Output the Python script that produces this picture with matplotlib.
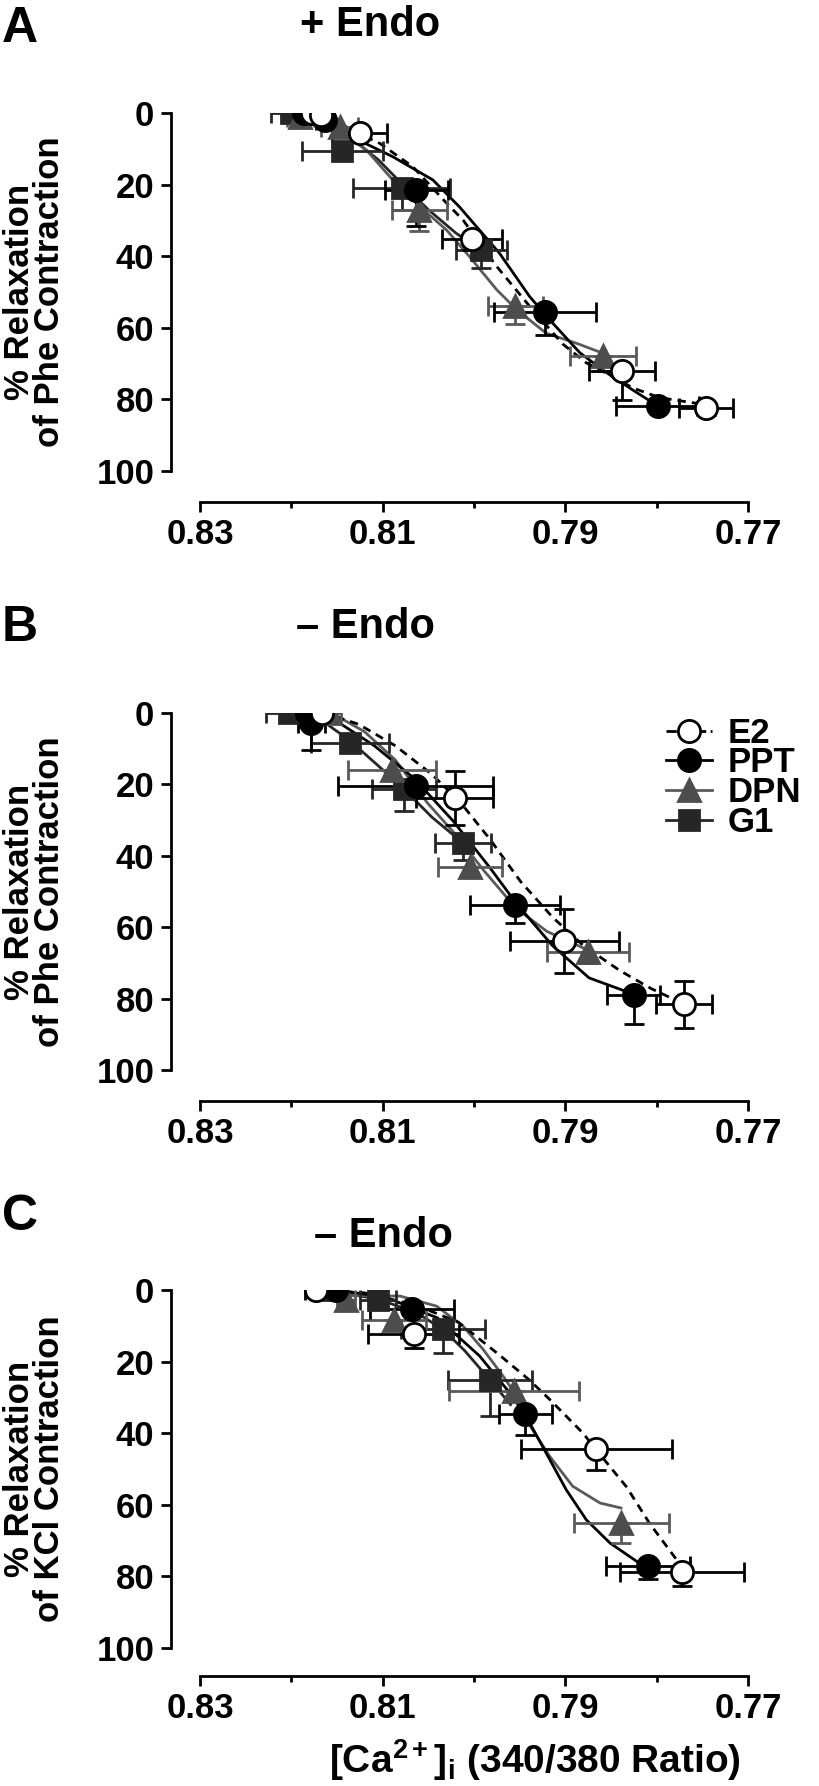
import matplotlib
matplotlib.use("Agg")
import matplotlib.pyplot as plt
from matplotlib.lines import Line2D
from matplotlib.font_manager import FontProperties

# ---------------- data ----------------
# Panel A: + Endo, Phe contraction
a_e2_x = [0.8177, 0.8167, 0.8125, 0.8002, 0.7838, 0.7746]
a_e2_y = [0, 0.5, 5.5, 35.2, 72.2, 82.3]
a_e2_xerr = [0.0012, 0.0010, 0.0030, 0.0033, 0.0036, 0.0030]
a_e2_ydn = [0, 0, 0, 3, 8, 2]
a_e2_yup = [0, 0, 0, 0, 0, 0]
a_ppt_x = [0.8186, 0.8163, 0.8063, 0.7922, 0.7799]
a_ppt_y = [0, 2, 21.5, 55.5, 81.8]
a_ppt_xerr = [0.0015, 0.0010, 0.0034, 0.0056, 0.0045]
a_ppt_ydn = [0, 0, 10, 6.5, 0]
a_ppt_yup = [0, 0, 0, 0, 0]
a_dpn_x = [0.8190, 0.8147, 0.8060, 0.7955, 0.7859]
a_dpn_y = [1, 4, 27, 54, 68]
a_dpn_xerr = [0.0015, 0.0020, 0.0030, 0.0030, 0.0036]
a_dpn_ydn = [0, 0, 6, 5, 4]
a_dpn_yup = [0, 0, 0, 0, 0]
a_g1_x = [0.8200, 0.8144, 0.8079, 0.7992]
a_g1_y = [0, 10.7, 21, 38.3]
a_g1_xerr = [0.0022, 0.0044, 0.0053, 0.0028]
a_g1_ydn = [0, 0, 6, 5]
a_g1_yup = [0, 0, 0, 0]
# fitted curves as traced
a_e2_cx = [0.8177, 0.8150, 0.8123, 0.8103, 0.8067, 0.8030, 0.8012, 0.7975, 0.7939,
           0.7903, 0.7877, 0.7848, 0.7826, 0.7797, 0.7746]
a_e2_cy = [0, 2.5, 6.1, 8.5, 15, 25.2, 29.9, 42.9, 54, 64.5, 69.8, 73.7, 76.8, 79.5, 81.5]
a_ppt_cx = [0.8186, 0.8165, 0.8123, 0.8089, 0.8045, 0.8016, 0.7994, 0.7972, 0.7939,
            0.7917, 0.7884, 0.7855, 0.7826, 0.7799]
a_ppt_cy = [0, 2, 8, 12.2, 18.7, 26.2, 32.7, 39.2, 51.3, 57.8, 67, 72.5, 77.4, 81.8]
a_dpn_cx = [0.8190, 0.8147, 0.8118, 0.8089, 0.8059, 0.8030, 0.8005, 0.7975, 0.7953,
            0.7921, 0.7888, 0.7859]
a_dpn_cy = [1, 4.7, 10.3, 18.7, 26.2, 32.7, 40.1, 49.4, 55, 61.5, 64.3, 67.1]
a_g1_cx = [0.8200, 0.8165, 0.8130, 0.8105, 0.8080, 0.8050, 0.8020, 0.7992]
a_g1_cy = [0.5, 3, 8, 13, 19.5, 27, 33.5, 38.5]

# Panel B: - Endo, Phe contraction
b_e2_x = [0.8166, 0.8021, 0.7901, 0.7770]
b_e2_y = [0, 23.8, 63.8, 81.6]
b_e2_xerr = [0.0010, 0.0042, 0.0060, 0.0031]
b_e2_ydn = [0, 7.6, 8.9, 6.5]
b_e2_yup = [0, 7.6, 8.9, 6.5]
b_ppt_x = [0.8183, 0.8178, 0.8064, 0.7955, 0.7825]
b_ppt_y = [0, 2.9, 20.4, 53.9, 79]
b_ppt_xerr = [0.0015, 0.0015, 0.0085, 0.0049, 0.0029]
b_ppt_ydn = [0, 7.5, 0, 5, 8]
b_ppt_yup = [0, 0, 0, 0, 0]
b_dpn_x = [0.8158, 0.8090, 0.8004, 0.7875]
b_dpn_y = [0, 16, 43, 67]
b_dpn_xerr = [0.0012, 0.0048, 0.0035, 0.0045]
b_dpn_ydn = [0, 0, 3, 3]
b_dpn_yup = [0, 0, 0, 0]
b_g1_x = [0.8203, 0.8136, 0.8077, 0.8012]
b_g1_y = [0, 8.5, 21.4, 36.3]
b_g1_xerr = [0.0025, 0.0043, 0.0035, 0.0031]
b_g1_ydn = [0, 0, 6, 5]
b_g1_yup = [0, 0, 0, 0]
b_e2_cx = [0.8166, 0.8149, 0.8126, 0.8086, 0.8046, 0.8015, 0.7983, 0.7949, 0.7914,
           0.7880, 0.7840, 0.7806, 0.7777, 0.7770]
b_e2_cy = [0, 1.2, 3.2, 9.2, 17.2, 25, 35.2, 47.2, 57.2, 65.2, 72.2, 77.2, 80.7, 81.6]
b_ppt_cx = [0.8184, 0.8154, 0.8109, 0.8066, 0.8023, 0.7983, 0.7954, 0.7914, 0.7874, 0.7826]
b_ppt_cy = [0, 1.7, 9.2, 18.2, 30.2, 43.2, 53.2, 65.2, 74.2, 78.7]
b_dpn_cx = [0.8156, 0.8120, 0.8086, 0.8051, 0.8023, 0.7989, 0.7954, 0.7920, 0.7877]
b_dpn_cy = [0, 5.2, 13.2, 25.2, 33.2, 44.2, 54.7, 61.2, 66.2]
b_g1_cx = [0.8204, 0.8166, 0.8136, 0.8103, 0.8077, 0.8046, 0.8013]
b_g1_cy = [0, 2.2, 7.7, 15.2, 21.2, 29.2, 36.2]

# Panel C: - Endo, KCl contraction
c_e2_x = [0.8173, 0.8066, 0.7866, 0.7772]
c_e2_y = [0, 12.4, 44.4, 78.7]
c_e2_xerr = [0.0012, 0.0050, 0.0083, 0.0068]
c_e2_ydn = [0, 3.9, 5.8, 4]
c_e2_yup = [0, 0, 0, 0]
c_ppt_x = [0.8151, 0.8068, 0.7944, 0.7809]
c_ppt_y = [0, 5.2, 34.5, 77.2]
c_ppt_xerr = [0.0010, 0.0046, 0.0029, 0.0046]
c_ppt_ydn = [0, 0, 6, 3.5]
c_ppt_yup = [0, 0, 0, 0]
c_dpn_x = [0.8140, 0.8088, 0.7956, 0.7839]
c_dpn_y = [2.7, 8.3, 28.3, 65]
c_dpn_xerr = [0.0010, 0.0035, 0.0071, 0.0052]
c_dpn_ydn = [0, 3, 0, 5.6]
c_dpn_yup = [0, 0, 0, 0]
c_g1_x = [0.8166, 0.8105, 0.8034, 0.7983]
c_g1_y = [0, 2.9, 11, 25.2]
c_g1_xerr = [0.0010, 0.0020, 0.0046, 0.0046]
c_g1_ydn = [0, 0, 6.5, 10]
c_g1_yup = [0, 0, 0, 0]
c_e2_cx = [0.8173, 0.8120, 0.8063, 0.8017, 0.7971, 0.7940, 0.7917, 0.7881, 0.7851,
           0.7833, 0.7808, 0.7778, 0.7772]
c_e2_cy = [0, 0.8, 4.3, 9, 18.4, 25, 30.6, 39.9, 49.4, 55, 65.1, 75.4, 78.7]
c_ppt_cx = [0.8151, 0.8097, 0.8040, 0.7994, 0.7960, 0.7943, 0.7917, 0.7899, 0.7877,
            0.7851, 0.7819, 0.7809]
c_ppt_cy = [0, 2, 7.8, 18.4, 29, 35.3, 47.4, 55.8, 64.2, 70.7, 76.3, 77.2]
c_dpn_cx = [0.8140, 0.8081, 0.8041, 0.8012, 0.7990, 0.7968, 0.7953, 0.7943, 0.7917,
            0.7892, 0.7862, 0.7839]
c_dpn_cy = [1.5, 1.7, 4.5, 10.1, 16.6, 24.1, 29.7, 36.2, 46.5, 54.8, 59.5, 60.9]
c_g1_cx = [0.8166, 0.8105, 0.8062, 0.8034, 0.8010, 0.7983, 0.7960]
c_g1_cy = [0, 2.5, 6.5, 11, 17, 25, 32]

series_names = ['E2', 'PPT', 'DPN', 'G1']
x_ticks = [0.83, 0.81, 0.79, 0.77]
x_minor = [0.82, 0.80, 0.78]
y_ticks = [0, 20, 40, 60, 80, 100]

# ---------------- style ----------------
FONT = ['Liberation Sans', 'DejaVu Sans']
plt.rcParams['font.family'] = FONT
plt.rcParams['font.weight'] = 'bold'
plt.rcParams['mathtext.fontset'] = 'custom'
plt.rcParams['mathtext.rm'] = 'Liberation Sans:bold'
plt.rcParams['mathtext.it'] = 'Liberation Sans:bold'
plt.rcParams['mathtext.bf'] = 'Liberation Sans:bold'
plt.rcParams['mathtext.default'] = 'rm'

W, H = 819, 1786
styles = {
    'E2':  dict(color='black', marker='o', mfc='white', mec='black', ms=16, ls='--'),
    'PPT': dict(color='black', marker='o', mfc='black', mec='black', ms=16, ls='-'),
    'DPN': dict(color='#5a5a5a', marker='^', mfc='#4d4d4d', mec='#4d4d4d', ms=16, ls='-'),
    'G1':  dict(color='#262626', marker='s', mfc='#262626', mec='#262626', ms=14.5, ls='-'),
}

fig = plt.figure(figsize=(W / 100, H / 100), dpi=100)


def px_axes(top, bottom):
    return fig.add_axes([200 / W, 1 - bottom / H, 548 / W, (bottom - top) / H])


def draw_panel(ax, pts, curves, offset):
    order = ['G1', 'DPN', 'PPT', 'E2']
    for name in order:
        st = styles[name]
        cx, cy = curves[name]
        if st['ls'] == '--':
            ax.plot(cx, cy, color=st['color'], lw=2, ls='--', dashes=(3, 2.2), zorder=2)
        else:
            ax.plot(cx, cy, color=st['color'], lw=2, ls='-', zorder=2)
    for name in order:
        st = styles[name]
        x, y, xe, yup, ydn = pts[name]
        ax.errorbar(x, y, xerr=xe, yerr=[yup, ydn], fmt='none', ecolor=st['color'],
                    elinewidth=2, capsize=7, capthick=2, zorder=3)
    for name in order:
        st = styles[name]
        x, y = pts[name][0], pts[name][1]
        ax.plot(x, y, ls='none', marker=st['marker'], ms=st['ms'], mfc=st['mfc'],
                mec=st['mec'], mew=2, zorder=4)

    ax.set_xlim(0.83, 0.77)
    ax.set_ylim(100, 0)
    for s in ['top', 'right']:
        ax.spines[s].set_visible(False)
    ax.spines['left'].set_position(('outward', 21))
    ax.spines['bottom'].set_position(('outward', offset))
    ax.spines['left'].set_bounds(0, 100)
    ax.spines['bottom'].set_bounds(0.77, 0.83)
    for s in ['left', 'bottom']:
        ax.spines[s].set_linewidth(2)
    ax.set_xticks(x_ticks)
    ax.set_xticks(x_minor, minor=True)
    ax.set_xticklabels(['%.2f' % t for t in x_ticks])
    ax.set_yticks(y_ticks)
    ax.tick_params(axis='both', which='major', length=7, width=2, labelsize=25, pad=5)
    ax.tick_params(axis='x', which='minor', length=4, width=2)
    ax.patch.set_visible(False)


panels = [
    ('A', '+ Endo', 113, 471, 22, 370, 25, 29, 'of Phe Contraction',
     {'E2': (a_e2_x, a_e2_y, a_e2_xerr, a_e2_yup, a_e2_ydn),
      'PPT': (a_ppt_x, a_ppt_y, a_ppt_xerr, a_ppt_yup, a_ppt_ydn),
      'DPN': (a_dpn_x, a_dpn_y, a_dpn_xerr, a_dpn_yup, a_dpn_ydn),
      'G1': (a_g1_x, a_g1_y, a_g1_xerr, a_g1_yup, a_g1_ydn)},
     {'E2': (a_e2_cx, a_e2_cy), 'PPT': (a_ppt_cx, a_ppt_cy),
      'DPN': (a_dpn_cx, a_dpn_cy), 'G1': (a_g1_cx, a_g1_cy)}),
    ('B', '\u2013 Endo', 713, 1070, 22, 365, 627, 628, 'of Phe Contraction',
     {'E2': (b_e2_x, b_e2_y, b_e2_xerr, b_e2_yup, b_e2_ydn),
      'PPT': (b_ppt_x, b_ppt_y, b_ppt_xerr, b_ppt_yup, b_ppt_ydn),
      'DPN': (b_dpn_x, b_dpn_y, b_dpn_xerr, b_dpn_yup, b_dpn_ydn),
      'G1': (b_g1_x, b_g1_y, b_g1_xerr, b_g1_yup, b_g1_ydn)},
     {'E2': (b_e2_cx, b_e2_cy), 'PPT': (b_ppt_cx, b_ppt_cy),
      'DPN': (b_dpn_cx, b_dpn_cy), 'G1': (b_g1_cx, b_g1_cy)}),
    ('C', '\u2013 Endo', 1290, 1648, 20, 383, 1236, 1217, 'of KCl Contraction',
     {'E2': (c_e2_x, c_e2_y, c_e2_xerr, c_e2_yup, c_e2_ydn),
      'PPT': (c_ppt_x, c_ppt_y, c_ppt_xerr, c_ppt_yup, c_ppt_ydn),
      'DPN': (c_dpn_x, c_dpn_y, c_dpn_xerr, c_dpn_yup, c_dpn_ydn),
      'G1': (c_g1_x, c_g1_y, c_g1_xerr, c_g1_yup, c_g1_ydn)},
     {'E2': (c_e2_cx, c_e2_cy), 'PPT': (c_ppt_cx, c_ppt_cy),
      'DPN': (c_dpn_cx, c_dpn_cy), 'G1': (c_g1_cx, c_g1_cy)}),
]

ylabels = []
for letter, title, top, bottom, off, title_x, title_y, letter_y, ylab2, pts, curves in panels:
    ax = px_axes(top, bottom)
    draw_panel(ax, pts, curves, off)
    fig.text(title_x / W, 1 - title_y / H, title, ha='center', va='center', fontsize=30)
    fig.text(2 / W, 1 - letter_y / H, letter, ha='left', va='center', fontsize=36)
    t = fig.text(34 / W, 1 - (top + bottom) / 2 / H, '% Relaxation\n' + ylab2, rotation=90,
                 ha='center', va='center', fontsize=25, linespacing=0.9)
    ylabels.append(t)

xlab = fig.text(535 / W, 3 / H, r'[Ca$^{2+}$]$_{i}$ (340/380 Ratio)', ha='center',
                va='bottom', fontsize=28)

# ---- legend in panel B, drawn by hand so the rows can sit tight ----
renderer = fig.canvas.get_renderer()
leg_size = 25
fp = FontProperties(family=FONT, weight='bold', size=leg_size)
_, lp_h, lp_d = renderer.get_text_width_height_descent('lp', fp, ismath=False)
_, cap_h, _ = renderer.get_text_width_height_descent('E', fp, ismath=False)
row0, step = 731, 29.5
ls = (step - lp_d) / (lp_h - lp_d)
text_top = row0 + cap_h / 2 - (lp_h - lp_d)
fig.text(728 / W, 1 - text_top / H, '\n'.join(series_names), ha='left', va='top',
         fontsize=leg_size, linespacing=ls)
for i, name in enumerate(series_names):
    st = styles[name]
    yy = 1 - (row0 + i * step) / H
    fig.add_artist(Line2D([666 / W, 712 / W], [yy, yy], transform=fig.transFigure,
                          color=st['color'], lw=2, ls='--' if name == 'E2' else '-'))
    fig.add_artist(Line2D([689 / W], [yy], transform=fig.transFigure, ls='none',
                          marker=st['marker'], ms=st['ms'], mfc=st['mfc'], mec=st['mec'],
                          mew=2))

# keep the y labels just inside the left edge
for t in ylabels:
    bb = t.get_window_extent(renderer)
    x, y = t.get_position()
    t.set_position((x + (3 - bb.x0) / W, y))

fig.savefig('out.png', dpi=100)
